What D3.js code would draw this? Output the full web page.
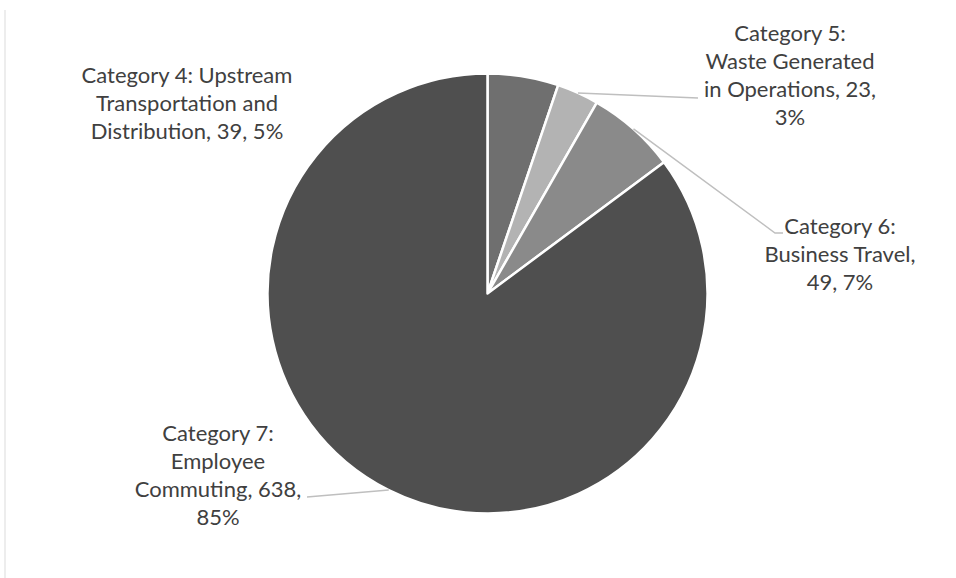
<!DOCTYPE html>
<html>
<head>
<meta charset="utf-8">
<script src="https://cdn.jsdelivr.net/npm/d3@7"></script>
<style>
  html, body { margin: 0; padding: 0; background: #ffffff; }
  svg { display: block; }
</style>
</head>
<body>
<svg id="chart" width="956" height="578"></svg>
<script>
// ---- data ----
const categories = [
  "Category 4: Upstream Transportation and Distribution",
  "Category 5: Waste Generated in Operations",
  "Category 6: Business Travel",
  "Category 7: Employee Commuting"
];
const values = [39, 23, 49, 638];
const labelLines = [
  ["Category 4: Upstream", "Transportation and", "Distribution, 39, 5%"],
  ["Category 5:", "Waste Generated", "in Operations, 23,", "3%"],
  ["Category 6:", "Business Travel,", "49, 7%"],
  ["Category 7:", "Employee", "Commuting, 638,", "85%"]
];
const colors = ["#6f6f6f", "#b3b3b3", "#8a8a8a", "#4f4f4f"];

// ---- layout ----
const W = 956, H = 578;
const cx = 487.5, cy = 293.5, R = 220;
const lineH = 28;
const labelAnchor = [
  { x: 187, y: 83, leader: null },
  { x: 790, y: 41, leader: [[698, 98]] },
  { x: 840, y: 234, leader: [[775, 233], [783, 233]] },
  { x: 218, y: 441, leader: [[307, 497]] }
];

const svg = d3.select("#chart");

// faint frame line on the left
svg.append("line")
  .attr("x1", 5).attr("y1", 10).attr("x2", 5).attr("y2", H)
  .attr("stroke", "#ededed").attr("stroke-width", 2);

const pie = d3.pie().sort(null).value(d => d).startAngle(0).endAngle(2 * Math.PI);
const arcs = pie(values);
const arc = d3.arc().innerRadius(0).outerRadius(R);

const g = svg.append("g").attr("transform", `translate(${cx},${cy})`);
g.selectAll("path.slice")
  .data(arcs)
  .join("path")
  .attr("class", "slice")
  .attr("d", arc)
  .attr("fill", (d, i) => colors[i])
  .attr("stroke", "#ffffff")
  .attr("stroke-width", 2.5)
  .attr("stroke-linejoin", "round");

// leader lines
arcs.forEach((d, i) => {
  const a = labelAnchor[i];
  if (!a.leader) return;
  const mid = (d.startAngle + d.endAngle) / 2;
  const sx = cx + R * Math.sin(mid);
  const sy = cy - R * Math.cos(mid);
  const pts = [[sx, sy]].concat(a.leader);
  svg.append("path")
    .attr("d", d3.line()(pts))
    .attr("fill", "none")
    .attr("stroke", "#bfbfbf")
    .attr("stroke-width", 1.5);
});

// labels
const fontFamily = "Lato, 'Open Sans', sans-serif";
arcs.forEach((d, i) => {
  const a = labelAnchor[i];
  const t = svg.append("text")
    .attr("x", a.x)
    .attr("y", a.y)
    .attr("text-anchor", "middle")
    .attr("font-family", fontFamily)
    .attr("font-size", 22)
    .attr("fill", "#404040");
  labelLines[i].forEach((ln, j) => {
    t.append("tspan")
      .attr("x", a.x)
      .attr("y", a.y + j * lineH)
      .text(ln);
  });
});
</script>
</body>
</html>
